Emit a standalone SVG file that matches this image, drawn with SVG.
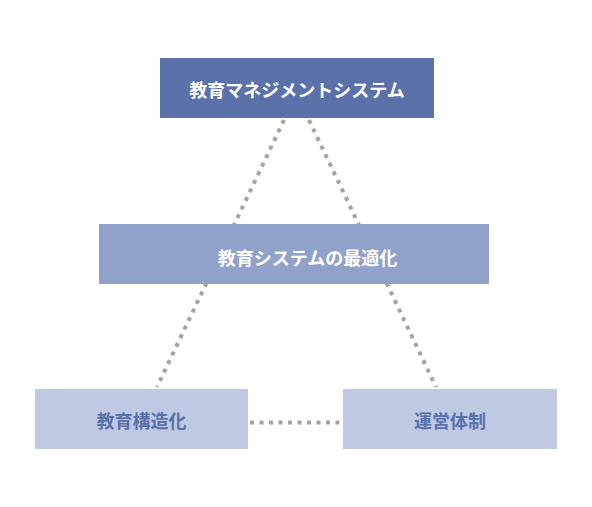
<svg xmlns="http://www.w3.org/2000/svg" width="592" height="507" viewBox="0 0 592 507">
<style>
.t{font-family:"Noto Sans CJK JP","Noto Sans CJK SC",sans-serif;font-size:18px;font-weight:bold;text-anchor:middle;dominant-baseline:central}
.w{fill:#ffffff}
.b{fill:#5870aa}
.c{fill:none;stroke:#a3a3a3;stroke-width:4;stroke-dasharray:4 5.5}
</style>
<rect width="592" height="507" fill="#ffffff"/>
<g id="connectors">
<line class="c" x1="284" y1="120" x2="157" y2="387"/>
<line class="c" x1="309" y1="120" x2="436" y2="387"/>
<line class="c" x1="250" y1="422.5" x2="342" y2="422.5"/>
</g>
<g id="node-top">
<rect x="160" y="58" width="274" height="60" fill="#5a71a9"/>
<text class="t w" x="297" y="88.5">教育マネジメントシステム</text>
</g>
<g id="node-middle">
<rect x="99" y="224" width="390" height="60" fill="#91a2ca"/>
<text class="t w" x="307.5" y="257">教育システムの最適化</text>
</g>
<g id="node-left">
<rect x="35" y="389" width="213" height="60" fill="#bfc9e3"/>
<text class="t b" x="141.5" y="420">教育構造化</text>
</g>
<g id="node-right">
<rect x="343" y="389" width="214" height="60" fill="#bfc9e3"/>
<text class="t b" x="450" y="420">運営体制</text>
</g>
</svg>
